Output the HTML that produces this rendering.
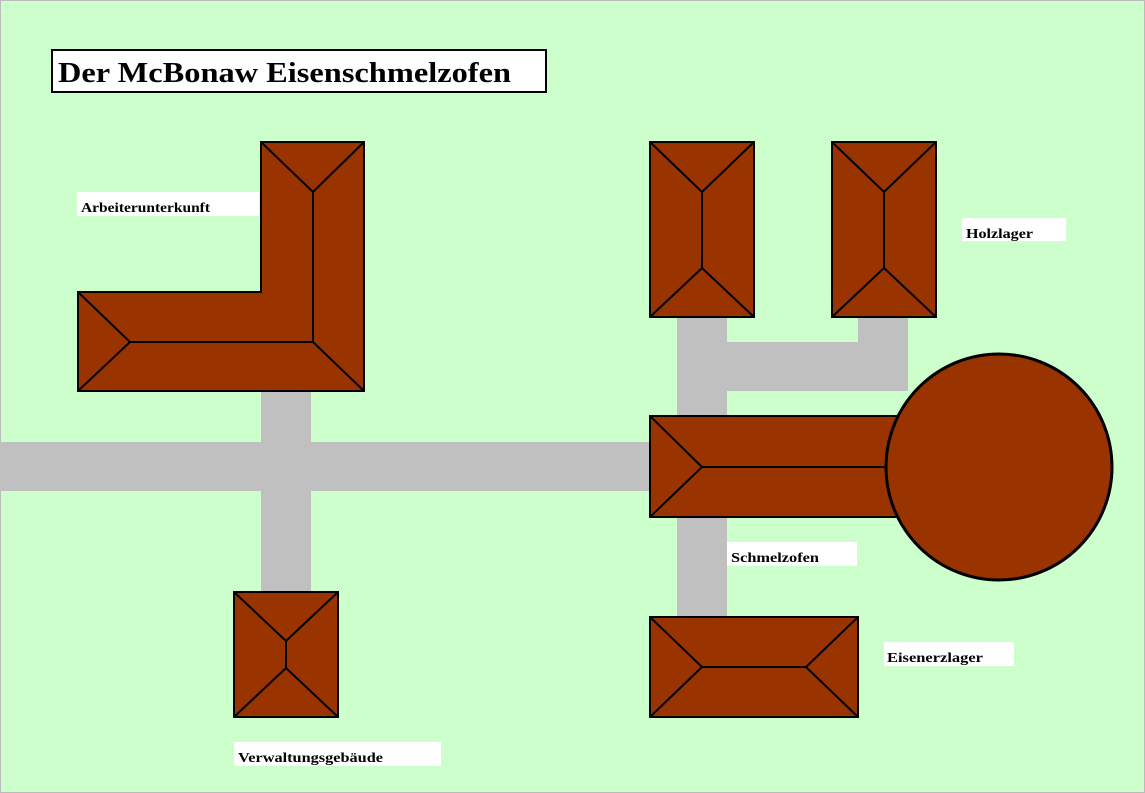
<!DOCTYPE html>
<html><head><meta charset="utf-8"><style>
html,body{margin:0;padding:0;background:#fff}
svg{display:block}
text{font-family:"Liberation Serif",serif;font-weight:bold}
</style></head><body>
<svg width="1145" height="793" viewBox="0 0 1145 793" xmlns="http://www.w3.org/2000/svg">
<rect x="0.5" y="0.5" width="1144" height="792" fill="#CCFFCC" stroke="#bbbbbb"/>
<rect x="52" y="50" width="494" height="42" fill="#fff" stroke="#000" stroke-width="2"/>
<text x="58" y="82" font-size="28" textLength="453" lengthAdjust="spacingAndGlyphs">Der McBonaw Eisenschmelzofen</text>
<g fill="#C0C0C0">
<rect x="0" y="442" width="652" height="49"/>
<rect x="261" y="389" width="50" height="204"/>
<rect x="677" y="315" width="50" height="103"/>
<rect x="677" y="515" width="50" height="104"/>
<rect x="725" y="342" width="183" height="49"/>
<rect x="858" y="315" width="50" height="30"/>
</g>
<g fill="#993300" stroke="#000" stroke-width="2">
<path d="M261,142H364V391H78V292H261Z"/>
<rect x="650" y="142" width="104" height="175"/>
<rect x="832" y="142" width="104" height="175"/>
<rect x="650" y="416" width="250" height="101"/>
<rect x="650" y="617" width="208" height="100"/>
<rect x="234" y="592" width="104" height="125"/>
<circle cx="999" cy="467" r="113" stroke-width="3"/>
</g>
<g fill="none" stroke="#000" stroke-width="2">
<path d="M261,142L313,192L364,142M313,192V342M78,292L130,342L78,391M130,342H313L364,391"/>
<path d="M650,142L702,192L754,142M702,192V268M650,317L702,268L754,317"/>
<path d="M832,142L884,192L936,142M884,192V268M832,317L884,268L936,317"/>
<path d="M650,416L702,467L650,517M702,467H886"/>
<path d="M650,617L702,667L650,717M702,667H806M858,617L806,667L858,717"/>
<path d="M234,592L286,641L338,592M286,641V668M234,717L286,668L338,717"/>
</g>
<g fill="#fff">
<rect x="77" y="192" width="182" height="24"/>
<rect x="962" y="218" width="104" height="23"/>
<rect x="727" y="542" width="130" height="24"/>
<rect x="884" y="642" width="130" height="24"/>
<rect x="234" y="742" width="207" height="24"/>
</g>
<g font-size="14">
<text x="81" y="212" textLength="129" lengthAdjust="spacingAndGlyphs">Arbeiterunterkunft</text>
<text x="966" y="238" textLength="67" lengthAdjust="spacingAndGlyphs">Holzlager</text>
<text x="731" y="562" textLength="88" lengthAdjust="spacingAndGlyphs">Schmelzofen</text>
<text x="887" y="662" textLength="96" lengthAdjust="spacingAndGlyphs">Eisenerzlager</text>
<text x="238" y="762" textLength="145" lengthAdjust="spacingAndGlyphs">Verwaltungsgebäude</text>
</g>
</svg>
</body></html>
